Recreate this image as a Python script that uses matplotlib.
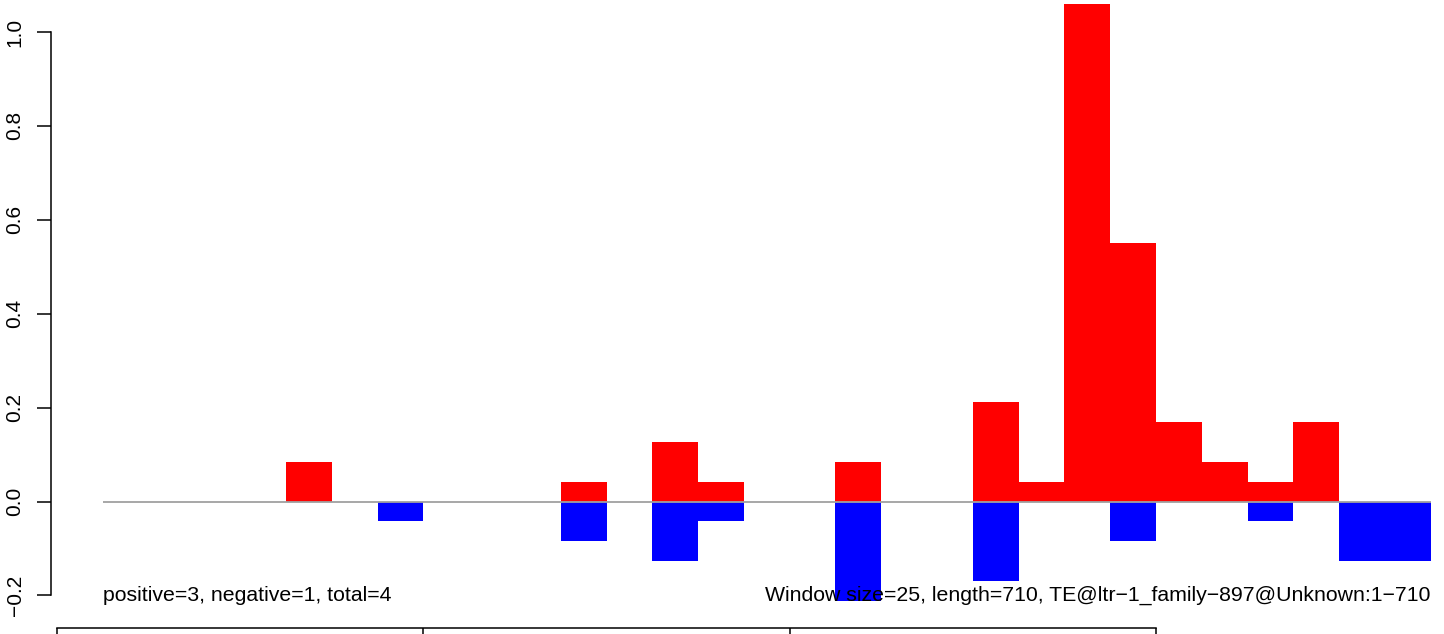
import matplotlib
matplotlib.use("Agg")
import matplotlib.pyplot as plt
import numpy as np

plt.rcParams['font.family'] = ['Liberation Sans', 'DejaVu Sans']

window_size = 25
seq_length = 710
# per-window values (29 windows of 25 bp)
pos = [0, 0, 0, 0, 0.085, 0, 0, 0, 0, 0, 0.042, 0, 0.127, 0.042, 0, 0, 0.085, 0, 0,
       0.212, 0.042, 1.059, 0.551, 0.169, 0.085, 0.042, 0.169, 0, 0]
neg = [0, 0, 0, 0, 0, 0, -0.042, 0, 0, 0, -0.085, 0, -0.127, -0.042, 0, 0, -0.212, 0, 0,
       -0.169, 0, 0, -0.085, 0, 0, -0.042, 0, -0.127, -0.127]
x_ticks = [0, 200, 400, 600]
y_ticks = [-0.2, 0.0, 0.2, 0.4, 0.6, 0.8, 1.0]
y_labels = ['\u22120.2', '0.0', '0.2', '0.4', '0.6', '0.8', '1.0']
left_text = 'positive=3, negative=1, total=4'
right_text = ('Window size=25, length=710, '
              'TE@ltr\u22121_family\u2212897@Unknown:1\u2212710')

starts = window_size * np.arange(1, len(pos) + 1)
x_end = starts[-1] + window_size

fig = plt.figure(figsize=(14.44, 6.34), dpi=100)
ax = fig.add_axes([0, 0, 1, 1])
ax.patch.set_visible(False)

ax.bar(starts, pos, width=window_size, align='edge', color='#FF0000', linewidth=0)
ax.bar(starts, neg, width=window_size, align='edge', color='#0000FF', linewidth=0)
ax.hlines(0, starts[0], x_end, color='#A0A0A0', linewidth=1.3, zorder=3)

ax.text(starts[0], -0.2, left_text, ha='left', va='center', fontsize=15.3, zorder=5)
ax.text(x_end, -0.2, right_text, ha='right', va='center', fontsize=15.3, zorder=5)

ax.set_xlim(-31.12, 757.2)
ax.set_ylim(-0.2822, 1.0682)

for s in ['top', 'right']:
    ax.spines[s].set_visible(False)
ax.spines['left'].set_position(('data', -3.28))
ax.spines['left'].set_bounds(-0.2, 1.0)
ax.spines['bottom'].set_position(('data', -0.2684))
ax.spines['bottom'].set_bounds(0, 600)
for s in ['left', 'bottom']:
    ax.spines[s].set_linewidth(1.1)

ax.set_xticks(x_ticks)
ax.tick_params(axis='x', direction='out', length=10, width=1.1, labelbottom=False)
ax.set_yticks(y_ticks, y_labels, rotation=90, va='center', fontsize=15)
ax.tick_params(axis='y', direction='out', length=10, width=1.1, pad=9)

fig.savefig('out.png', dpi=100)
